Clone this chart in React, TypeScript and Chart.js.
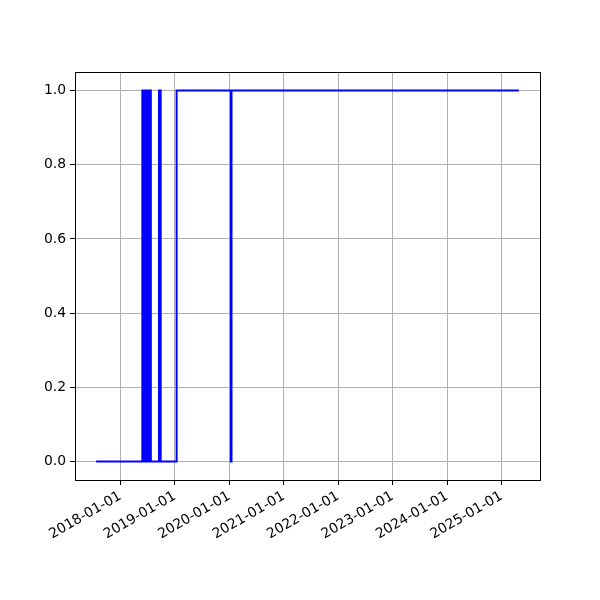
import React, { useEffect, useRef } from "react";
import { Chart, registerables } from "chart.js";

Chart.register(...registerables);

// Dates where the series value changes (value holds until next date)
const changeDates: string[] = [
  "2017-07-22",
  "2018-05-28", "2018-06-01", "2018-06-03", "2018-06-07", "2018-06-09",
  "2018-06-13", "2018-06-15", "2018-06-19", "2018-06-21", "2018-06-25",
  "2018-06-27", "2018-07-01", "2018-07-03", "2018-07-07", "2018-07-09",
  "2018-07-13", "2018-07-15", "2018-07-24",
  "2018-09-17", "2018-09-28",
  "2019-01-13",
  "2020-01-12", "2020-01-16",
  "2025-04-27",
];
const changeValues: number[] = [
  0,
  1, 0, 1, 0, 1,
  0, 1, 0, 1, 0,
  1, 0, 1, 0, 1,
  0, 1, 0,
  1, 0,
  1,
  0, 1,
  1,
];
const xTickLabels: string[] = [
  "2018-01-01", "2019-01-01", "2020-01-01", "2021-01-01",
  "2022-01-01", "2023-01-01", "2024-01-01", "2025-01-01",
];
const yTicks: number[] = [0, 0.2, 0.4, 0.6, 0.8, 1.0];

const toMs = (s: string) => {
  const [y, m, d] = s.split("-").map(Number);
  return Date.UTC(y, m - 1, d);
};
const fmt = (v: number) => {
  const d = new Date(v);
  const p = (n: number) => String(n).padStart(2, "0");
  return `${d.getUTCFullYear()}-${p(d.getUTCMonth() + 1)}-${p(d.getUTCDate())}`;
};

export default function App() {
  const ref = useRef<HTMLCanvasElement | null>(null);
  useEffect(() => {
    if (!ref.current) return;
    const pts = changeDates.map((d, i) => ({ x: toMs(d), y: changeValues[i] }));
    const xs = pts.map((p) => p.x);
    const x0 = Math.min(...xs);
    const x1 = Math.max(...xs);
    const mx = (x1 - x0) * 0.05;
    const font = { family: "'DejaVu Sans', sans-serif", size: 13.9 };
    const frame = {
      id: "frame",
      afterDatasetsDraw(chart: any) {
        const { ctx, chartArea: a } = chart;
        ctx.save();
        ctx.strokeStyle = "#000";
        ctx.lineWidth = 1;
        ctx.strokeRect(Math.round(a.left) + 0.5, Math.round(a.top) + 0.5, Math.round(a.right - a.left), Math.round(a.bottom - a.top));
        ctx.restore();
      },
    };
    const chart = new Chart(ref.current, {
      type: "line",
      data: {
        datasets: [
          {
            data: pts,
            borderColor: "#0000ff",
            borderWidth: 2,
            pointRadius: 0,
            stepped: "before" as any,
            tension: 0,
            fill: false,
          },
        ],
      },
      plugins: [frame],
      options: {
        animation: false,
        responsive: false,
        events: [],
        layout: { padding: { top: 72, right: 60, left: 0, bottom: 0 } },
        plugins: { legend: { display: false }, tooltip: { enabled: false } },
        scales: {
          x: {
            type: "linear",
            min: x0 - mx,
            max: x1 + mx,
            afterBuildTicks: (s: any) => {
              s.ticks = xTickLabels.map((l) => ({ value: toMs(l) }));
            },
            afterFit: (s: any) => {
              s.height = 120;
            },
            ticks: {
              autoSkip: false,
              maxRotation: 30,
              minRotation: 30,
              padding: 3,
              color: "#000",
              font,
              callback: (v: any) => fmt(Number(v)),
            },
            grid: { color: "#b0b0b0", lineWidth: 1, tickColor: "#000", tickLength: 5, drawTicks: true },
            border: { display: false },
          },
          y: {
            type: "linear",
            min: -0.05,
            max: 1.05,
            afterBuildTicks: (s: any) => {
              s.ticks = yTicks.map((v) => ({ value: v }));
            },
            afterFit: (s: any) => {
              s.width = 75;
            },
            ticks: {
              padding: 4,
              color: "#000",
              font,
              callback: (v: any) => Number(v).toFixed(1),
            },
            grid: { color: "#b0b0b0", lineWidth: 1, tickColor: "#000", tickLength: 5, drawTicks: true },
            border: { display: false },
          },
        },
      },
    });
    return () => chart.destroy();
  }, []);
  return (
    <div style={{ position: "absolute", left: 0, top: 0, width: 600, height: 600, background: "#fff" }}>
      <canvas ref={ref} width={600} height={600} style={{ width: 600, height: 600 }} />
    </div>
  );
}
